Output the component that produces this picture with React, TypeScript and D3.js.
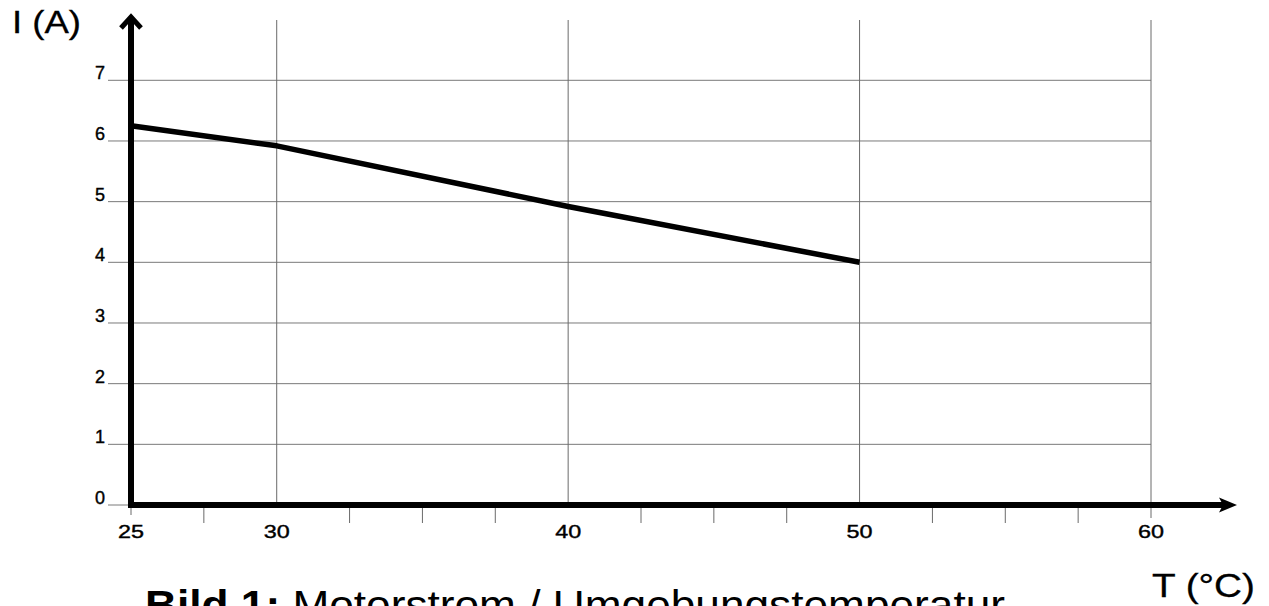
import React from 'react';
import * as d3 from 'd3';

// temperature (°C) vs motor current (A)
const temps = [25, 30, 40, 50];
const currents = [6.25, 5.92, 4.92, 4.0];

const xLabels = [25, 30, 40, 50, 60];
const xGrid = [30, 40, 50, 60];
const xMinor = [27.5, 32.5, 35, 37.5, 42.5, 45, 47.5, 52.5, 55, 57.5];
const yTicks = [0, 1, 2, 3, 4, 5, 6, 7];

const W = 1269;
const H = 606;
const FONT = 'Liberation Sans, Arial, Helvetica, sans-serif';

export default function App() {
  const x = d3.scaleLinear().domain([25, 60]).range([131, 1151]);
  const y = d3.scaleLinear().domain([0, 7]).range([505, 80.3]);

  const line = d3
    .line<number>()
    .x((_, i) => x(temps[i]))
    .y((d) => y(d));

  const axisY = y(0);

  return (
    <svg
      width={W}
      height={H}
      style={{ position: 'absolute', left: 0, top: 0, background: '#fff' }}
      fontFamily={FONT}
    >
      {/* horizontal grid */}
      {yTicks.map((t) => (
        <line
          key={'h' + t}
          x1={108}
          x2={x(60)}
          y1={y(t)}
          y2={y(t)}
          stroke="#7a7a7a"
          strokeWidth={1}
        />
      ))}
      {/* vertical grid */}
      {xGrid.map((t) => (
        <line
          key={'v' + t}
          x1={x(t)}
          x2={x(t)}
          y1={20}
          y2={t === 60 ? axisY + 13 : axisY}
          stroke="#6a6a6a"
          strokeWidth={1}
        />
      ))}
      {/* tick under 25 */}
      <line x1={x(25)} x2={x(25)} y1={axisY} y2={axisY + 10} stroke="#6a6a6a" strokeWidth={1} />
      {/* minor ticks */}
      {xMinor.map((t) => (
        <line
          key={'m' + t}
          x1={x(t)}
          x2={x(t)}
          y1={axisY}
          y2={axisY + 18}
          stroke="#6a6a6a"
          strokeWidth={1}
        />
      ))}

      {/* axes */}
      <line x1={x(25)} x2={x(25)} y1={axisY + 3} y2={18} stroke="#000" strokeWidth={6} />
      <path d={`M${x(25) - 10},28 L${x(25)},17 L${x(25) + 10},28`} fill="none" stroke="#000" strokeWidth={5} />
      <line x1={x(25) - 3} x2={1226} y1={axisY} y2={axisY} stroke="#000" strokeWidth={6} />
      <path d={`M1219,${axisY - 7.5} L1237,${axisY} L1219,${axisY + 7.5} L1223,${axisY} Z`} fill="#000" />

      {/* data line */}
      <path d={line(currents) || ''} fill="none" stroke="#000" strokeWidth={5.5} strokeLinejoin="round" />

      {/* y tick labels */}
      {yTicks.map((t) => (
        <text key={'yl' + t} x={105} y={y(t) - 1} textAnchor="end" fontSize={18} fill="#000" stroke="#000" strokeWidth={0.4}>
          {t}
        </text>
      ))}
      {/* x tick labels */}
      {xLabels.map((t) => (
        <text key={'xl' + t} x={x(t)} y={538} textAnchor="middle" fontSize={19} textLength={26} lengthAdjust="spacingAndGlyphs" fill="#000" stroke="#000" strokeWidth={0.4}>
          {t}
        </text>
      ))}

      {/* axis titles */}
      <text x={12} y={33} fontSize={32} textLength={69} lengthAdjust="spacingAndGlyphs" fill="#000" stroke="#000" strokeWidth={0.3}>
        I (A)
      </text>
      <text x={1152} y={597} fontSize={33} textLength={103} lengthAdjust="spacingAndGlyphs" fill="#000" stroke="#000" strokeWidth={0.3}>
        T (°C)
      </text>

      {/* caption */}
      <text x={145} y={619} fontSize={40} textLength={860} lengthAdjust="spacingAndGlyphs" fill="#000">
        <tspan fontWeight="bold">Bild 1:</tspan> Motorstrom / Umgebungstemperatur
      </text>
    </svg>
  );
}
